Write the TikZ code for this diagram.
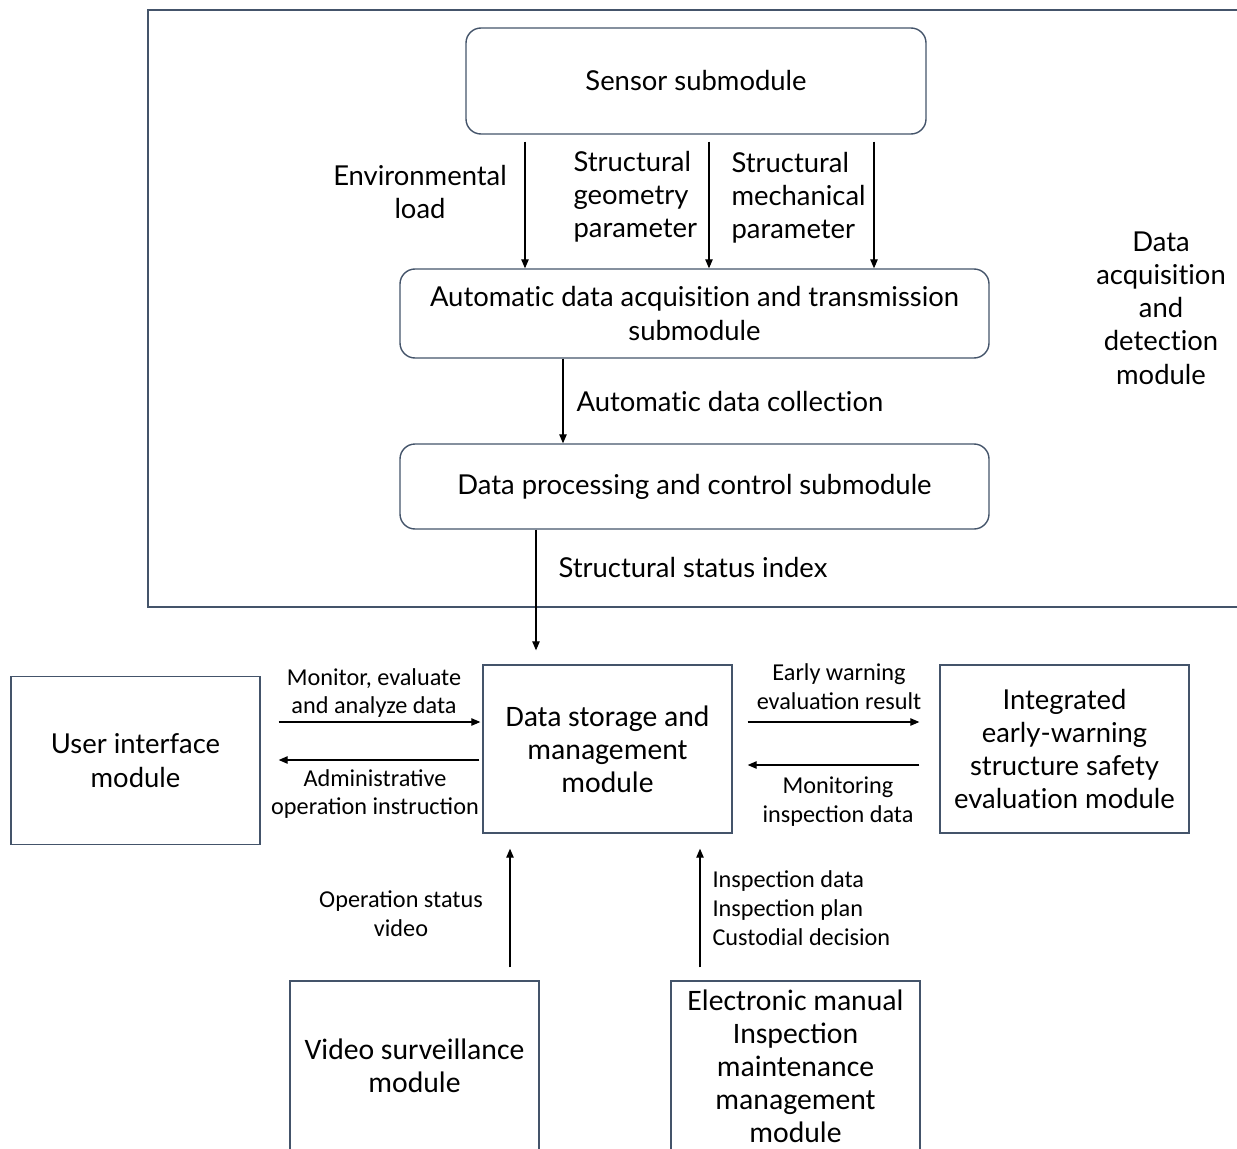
\documentclass[tikz,border=0pt]{standalone}
\usepackage{fontspec}
\setmainfont{Lato}[Ligatures={NoCommon,NoContextual}]
\newfontfamily\condfont{Carlito}
\usetikzlibrary{arrows.meta}
\definecolor{boxblue}{RGB}{68,84,106}
\newcommand{\wfont}{\fontsize{15.6}{18.9}\selectfont}
\newcommand{\bigcond}{\condfont\fontsize{16.9}{18.8}\selectfont}
\newcommand{\smallcond}{\condfont\fontsize{13.8}{16.4}\selectfont}

\begin{document}
\begin{tikzpicture}[line width=0.6pt,
  arr/.style={-{Triangle[length=1.8mm,width=1.5mm]},black},
  round box/.style={draw=boxblue,line width=0.8pt,rounded corners=0.3cm,align=center,font=\wfont},
  flat box/.style={draw=boxblue,line width=0.8pt,align=center,minimum width=4.98cm,minimum height=3.36cm},
  wide text/.style={font=\wfont,align=center,inner sep=0pt},
  cond text/.style={font=\smallcond,align=center,inner sep=0pt}]

\clip (0,0) rectangle (24.74,-22.98);

% Data acquisition and detection module
\draw[draw=boxblue,line width=0.8pt] (25,-0.2) -- (2.96,-0.2) -- (2.96,-12.14) -- (25,-12.14);
\node[wide text] (acqmodule) at (23.22,-6.16) {Data\\acquisition\\and\\detection\\module};

\node[round box,minimum width=9.2cm,minimum height=2.12cm] (sensor) at (13.92,-1.62) {Sensor submodule};
\node[round box,minimum width=11.78cm,minimum height=1.78cm] (acq) at (13.89,-6.27) {Automatic data acquisition and transmission\\submodule};
\node[round box,minimum width=11.78cm,minimum height=1.7cm] (proc) at (13.89,-9.73) {Data processing and control submodule};

\coordinate (envx) at (10.5,0);
\coordinate (geomx) at (14.18,0);
\coordinate (mechx) at (17.48,0);
\draw[arr,shorten <=0.14cm] (sensor.south -| envx) -- (acq.north -| envx);
\draw[arr,shorten <=0.14cm] (sensor.south -| geomx) -- (acq.north -| geomx);
\draw[arr,shorten <=0.14cm] (sensor.south -| mechx) -- (acq.north -| mechx);
\node[wide text] (envlabel) at (8.4,-3.84) {Environmental\\load};
\node[wide text,anchor=west,align=left] (geomlabel) at (11.46,-3.94) {Structural\\geometry\\parameter};
\node[wide text,anchor=west,align=left] (mechlabel) at (14.62,-3.96) {Structural\\mechanical\\parameter};

\coordinate (collx) at (11.26,0);
\draw[arr] (acq.south -| collx) -- (proc.north -| collx);
\node[wide text,anchor=west] (colllabel) at (11.52,-8.04) {Automatic data collection};

% Middle row
\node[flat box,font=\bigcond] (store) at (12.15,-14.98) {Data storage and\\management\\module};
\node[flat box,font=\wfont] (ui) at (2.71,-15.21) {User interface\\module};
\node[flat box,font=\wfont] (warn) at (21.29,-14.98) {Integrated\\early-warning\\structure safety\\evaluation module};

\coordinate (statx) at (10.72,0);
\draw[arr,shorten >=0.28cm] (proc.south -| statx) -- (store.north -| statx);
\node[wide text,anchor=west] (statlabel) at (11.16,-11.36) {Structural status index};

\coordinate (row1) at (0,-14.44);
\coordinate (row2) at (0,-15.2);
\coordinate (row3) at (0,-15.3);
\draw[arr,shorten <=0.36cm,shorten >=0.04cm] (ui.east |- row1) -- (store.west |- row1);
\draw[arr,shorten <=0.06cm,shorten >=0.36cm] (store.west |- row2) -- (ui.east |- row2);
\draw[arr,shorten <=0.3cm,shorten >=0.4cm] (store.east |- row1) -- (warn.west |- row1);
\draw[arr,shorten <=0.4cm,shorten >=0.3cm] (warn.west |- row3) -- (store.east |- row3);
\node[cond text] (monlabel) at (7.48,-13.86) {Monitor, evaluate\\and analyze data};
\node[cond text] (admlabel) at (7.5,-15.88) {Administrative\\operation instruction};
\node[cond text] (earlylabel) at (16.78,-13.74) {Early warning\\evaluation result};
\node[cond text] (insplabel) at (16.76,-16.04) {Monitoring\\inspection data};

% Bottom row
\node[flat box,font=\bigcond,minimum height=3.4cm] (video) at (8.29,-21.32) {Video surveillance\\module};
\node[flat box,font=\bigcond,minimum height=3.4cm] (manual) at (15.91,-21.32) {Electronic manual\\Inspection\\maintenance\\management\\module};

\coordinate (vidx) at (10.2,0);
\coordinate (manx) at (14.0,0);
\draw[arr,shorten <=0.26cm,shorten >=0.3cm] (video.north -| vidx) -- (store.south -| vidx);
\draw[arr,shorten <=0.26cm,shorten >=0.3cm] (manual.north -| manx) -- (store.south -| manx);
\node[cond text] (vidlabel) at (8.02,-18.28) {Operation status\\video};
\node[cond text,anchor=west,align=left] (manlabel) at (14.24,-18.16) {Inspection data\\Inspection plan\\Custodial decision};

\end{tikzpicture}
\end{document}
